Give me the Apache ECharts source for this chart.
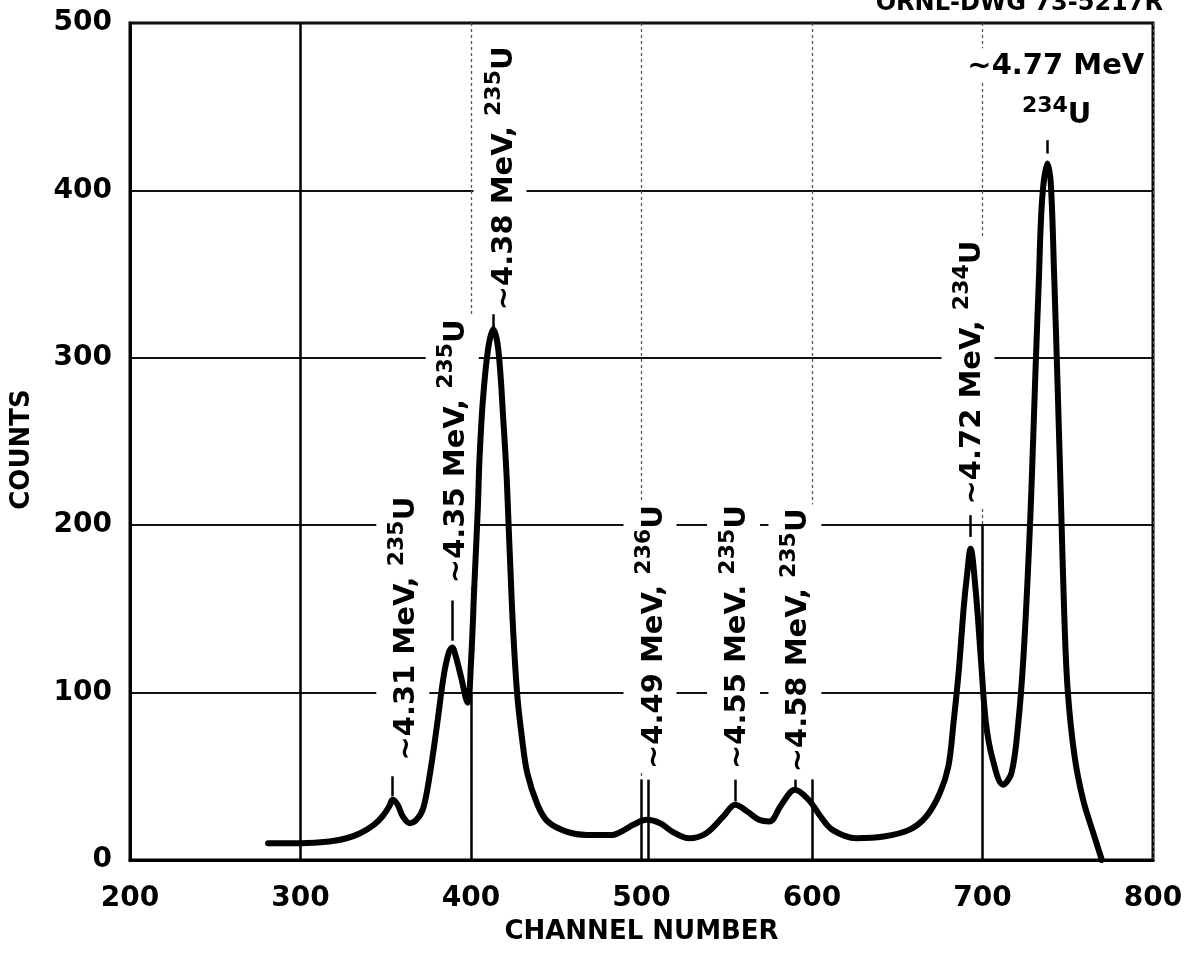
<!DOCTYPE html>
<html>
<head>
<meta charset="utf-8">
<script src="https://cdn.jsdelivr.net/npm/echarts@6/dist/echarts.min.js"></script>
<style>
  html, body { margin: 0; padding: 0; background: #fff; }
  #chart { width: 1193px; height: 958px; }
</style>
</head>
<body>
<div id="chart"></div>
<script>
// ---- data ----
const channels = [281, 300, 317, 327, 335, 343, 348, 352, 354, 357, 360, 364, 368, 372, 376, 380, 384, 387, 389, 391, 394, 398,
  400, 402, 404, 405, 407, 410, 413, 416, 419, 421, 424, 427, 430, 433, 439, 445, 456, 468, 483, 490, 495, 503, 511, 518,
  528, 538, 548, 555, 562, 569, 575, 582, 590, 598, 605, 612, 626, 642, 657, 667, 675, 680, 683, 686, 689, 691, 693, 696,
  699, 702, 706, 712, 717, 721, 724, 727, 729, 731, 733, 735, 738, 740, 742, 744, 746, 748, 750, 754, 759, 765, 770];
const counts = [10, 10, 11, 13, 16, 21, 26, 32, 36, 33, 26, 22, 24, 31, 52, 80, 110, 124, 127, 122, 110, 94,
  118, 165, 210, 240, 275, 305, 317, 305, 262, 227, 152, 100, 72, 52, 33, 23, 17, 15, 15, 18, 21, 24, 22, 17,
  13, 16, 26, 33, 29, 24, 23, 33, 42, 36, 26, 18, 13, 14, 18, 26, 40, 56, 82, 112, 151, 171, 186, 161,
  121, 82, 60, 45, 52, 82, 121, 180, 230, 290, 345, 395, 416, 405, 350, 285, 215, 145, 101, 62, 36, 16, 0];

const xTicks = [200, 300, 400, 500, 600, 700, 800];
const yTicks = [0, 100, 200, 300, 400, 500];

// rotated peak annotations: energy text, isotope mass number, anchor (channel, counts)
const peakTexts = ['~4.31 MeV, ', '~4.35 MeV, ', '~4.38 MeV, ', '~4.49 MeV, ', '~4.55 MeV. ', '~4.58 MeV, ', '~4.72 MeV, '];
const peakMass = ['235', '235', '235', '236', '235', '235', '234'];
const peakLabelX = [360, 389, 417, 505, 554, 590, 691.5];
const peakLabelY = [57, 163, 326, 52, 52, 50, 210];

// top peak annotation (horizontal)
const topText = '~4.77 MeV';
const topMass = '234';
const topTextPos = [743, 475];
const topMassPos = [743.5, 446];

// short marker ticks above the peaks: channel, low, high
const tickX = [354, 389, 413, 555, 590, 693, 738];
const tickLow = [38, 131, 318, 35, 42, 193, 422];
const tickHigh = [50, 155, 326, 48, 48, 206, 430];

// solid lower parts of the vertical grid lines: channel, top
const guideX = [300, 400, 500, 504, 600, 700];
const guideTop = [500, 100, 48, 48, 48, 200];

const titleText = 'CHANNEL NUMBER';
const yTitle = 'COUNTS';
const drawingNo = 'ORNL-DWG 73-5217R';

// ---- chart ----
const FONT = 'DejaVu Sans';
const chart = echarts.init(document.getElementById('chart'), null, { renderer: 'canvas' });

const rich = {
  t: { fontFamily: FONT, fontWeight: 'bold', fontSize: 29, color: '#000', verticalAlign: 'bottom', lineHeight: 33 },
  s: { fontFamily: FONT, fontWeight: 'bold', fontSize: 22, color: '#000', verticalAlign: 'bottom', lineHeight: 25, padding: [0, 0, 13, 0] },
  u: { fontFamily: FONT, fontWeight: 'bold', fontSize: 29, color: '#000', verticalAlign: 'bottom', lineHeight: 33 }
};

const annData = peakTexts.map((t, i) => ({
  value: [peakLabelX[i], peakLabelY[i]],
  label: {
    show: true, position: 'inside', rotate: 90, align: 'left', verticalAlign: 'middle',
    color: '#000', opacity: 1,
    formatter: '{t|' + t + '}{s|' + peakMass[i] + '}{u|U}',
    backgroundColor: '#fff', padding: [12, 4, 8, 4], rich: rich
  }
}));
annData.push({
  value: topTextPos,
  label: { show: true, position: 'inside', align: 'center', verticalAlign: 'middle', color: '#000', opacity: 1,
    formatter: '{t|' + topText + '}', rich: rich, backgroundColor: '#fff', padding: [0, 4] }
});
annData.push({
  value: topMassPos,
  label: { show: true, position: 'inside', align: 'center', verticalAlign: 'middle', color: '#000', opacity: 1,
    formatter: '{s|' + topMass + '}{u|U}', rich: rich }
});

const markLines = [];
guideX.forEach((x, i) => markLines.push([{ coord: [x, 0] }, { coord: [x, guideTop[i]] }]));
tickX.forEach((x, i) => markLines.push([{ coord: [x, tickLow[i]] }, { coord: [x, tickHigh[i]] }]));

const option = {
  backgroundColor: '#fff',
  animation: false,
  grid: { left: 130, right: 40, top: 23, bottom: 98, containLabel: false, outerBoundsMode: 'none',
    show: true, borderColor: '#000', borderWidth: 3, backgroundColor: 'transparent' },
  graphic: [{
    type: 'text', right: 30, top: -8,
    style: { text: drawingNo, font: 'bold 24px "DejaVu Sans"', fill: '#000' }
  }],
  xAxis: {
    type: 'value', min: xTicks[0], max: xTicks[xTicks.length - 1], interval: 100,
    name: titleText, nameLocation: 'middle', nameGap: 59,
    nameTextStyle: { fontFamily: FONT, fontWeight: 'bold', fontSize: 26, color: '#000' },
    axisLine: { show: true, lineStyle: { color: '#000', width: 3 } },
    axisTick: { show: false },
    axisLabel: { fontFamily: FONT, fontWeight: 'bold', fontSize: 28, color: '#000', margin: 25 },
    splitLine: { show: true, lineStyle: { color: '#555', width: 1.3, type: [3, 3] } }
  },
  yAxis: {
    type: 'value', min: yTicks[0], max: yTicks[yTicks.length - 1], interval: 100,
    name: yTitle, nameLocation: 'middle', nameGap: 95, nameRotate: 90,
    nameTextStyle: { fontFamily: FONT, fontWeight: 'bold', fontSize: 26, color: '#000', padding: [0, 16, 0, 0] },
    axisLine: { show: true, lineStyle: { color: '#000', width: 3 } },
    axisTick: { show: false },
    axisLabel: { fontFamily: FONT, fontWeight: 'bold', fontSize: 28, color: '#000', margin: 18 },
    splitLine: { show: true, lineStyle: { color: '#111', width: 2 } }
  },
  series: [
    {
      name: 'spectrum', type: 'line', smooth: 0.35, showSymbol: false, symbol: 'none',
      data: channels.map((c, i) => [c, counts[i]]),
      lineStyle: { color: '#000', width: 6, cap: 'round', join: 'round' },
      z: 5,
      markLine: {
        silent: true, symbol: 'none', animation: false,
        label: { show: false },
        lineStyle: { color: '#000', width: 2.5, type: 'solid' },
        data: markLines
      }
    },
    {
      name: 'annotations', type: 'scatter', symbolSize: 0, silent: true, z: 4,
      itemStyle: { opacity: 1 },
      data: annData
    }
  ]
};
chart.setOption(option);
</script>
</body>
</html>
